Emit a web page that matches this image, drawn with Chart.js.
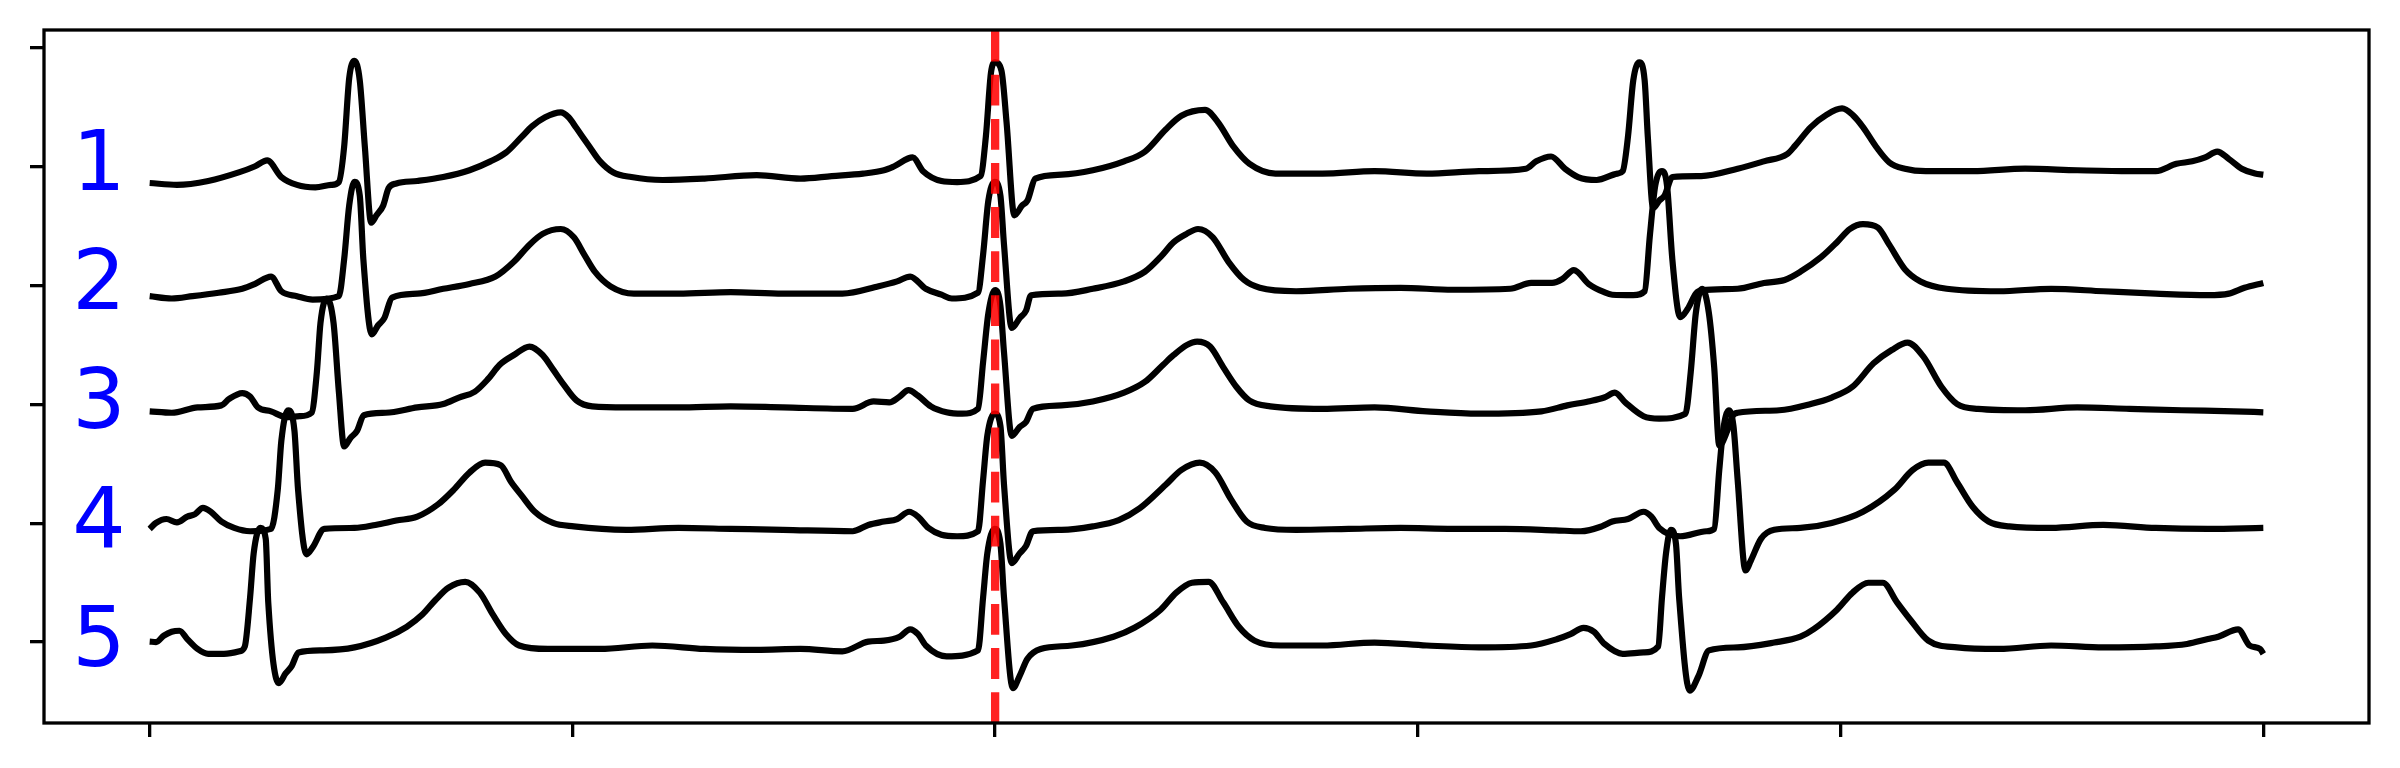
<!DOCTYPE html>
<html>
<head>
<meta charset="utf-8">
<script src="https://cdn.jsdelivr.net/npm/chart.js@4.4.1/dist/chart.umd.min.js"></script>
<style>
  body { margin: 0; background: #fff; }
  canvas { display: block; }
</style>
</head>
<body>
<canvas id="myChart" width="2400" height="768"></canvas>
<script>
// axis ticks (no labels shown)
var xTicks = [0, 200, 400, 600, 800, 1000];
var yTicks = [0, 1, 2, 3, 4, 5];

// trace names and vertical offsets
var traceLabels = ['1', '2', '3', '4', '5'];
var offsets = [4, 3, 2, 1, 0];

// red marker position
var markerX = 400;

// ECG traces, [sample, amplitude]
var lead1 = [[0,-0.138],[12.9,-0.154],[27.7,-0.121],[42.5,-0.047],[49.9,0.003],[55.6,0.052],[62.3,-0.088],[69.7,-0.154],[78.4,-0.175],[85.8,-0.154],[89.5,-0.130],
  [92,0.167],[94.4,0.744],[96.9,0.889],[99.4,0.724],[101.8,0.167],[104.8,-0.472],[107.3,-0.410],[110.5,-0.327],[113,-0.183],[116.7,-0.142],[126.6,-0.121],
  [138.9,-0.088],[151.3,-0.031],[161.2,0.044],[168.6,0.118],[176,0.250],[181,0.340],[187.1,0.415],[194.5,0.456],[198.2,0.415],[201.9,0.324],[208.1,0.167],
  [213.1,0.044],[219.2,-0.047],[227.9,-0.088],[242.7,-0.113],[262.5,-0.101],[287.2,-0.072],[307.9,-0.101],[322.7,-0.080],[337.5,-0.059],[347.4,-0.031],
  [352.3,0.003],[361,0.077],[365.9,-0.039],[374.6,-0.121],[382,-0.130],[393.1,-0.080],[395.6,0.250],[398,0.786],[400,0.876],[403,0.806],[405.4,0.373],
  [409.1,-0.410],[412.8,-0.327],[415.3,-0.286],[419,-0.101],[431.4,-0.068],[446.2,-0.031],[461,0.044],[470.9,0.126],[480.7,0.312],[488.1,0.427],[499.3,0.477],
  [505.4,0.373],[512.8,0.167],[520.3,0.023],[532.6,-0.059],[554.8,-0.059],[579.5,-0.039],[604.2,-0.059],[628.9,-0.039],[651.1,-0.018],[656,0.044],[663,0.085],
  [669.6,-0.018],[675.8,-0.088],[684.6,-0.113],[694.4,-0.059],[696.9,-0.039],[699.4,0.250],[701.9,0.724],[704.8,0.876],[707.3,0.724],[708.8,0.250],
  [711.3,-0.348],[714.2,-0.286],[716.7,-0.245],[720.4,-0.088],[734,-0.080],[751.3,-0.018],[763.7,0.044],[774.8,0.106],[778.5,0.176],[785.9,0.332],
  [793.3,0.435],[800.7,0.489],[805.7,0.435],[810.6,0.332],[816.8,0.167],[823,0.036],[830.4,-0.018],[840.3,-0.039],[862.5,-0.039],[887.3,-0.018],
  [912,-0.031],[936.7,-0.039],[949.1,-0.039],[958.9,0.023],[966.4,0.044],[972.5,0.077],[978.2,0.126],[983.7,0.064],[989.8,-0.018],[996.1,-0.059],[1000,-0.068]];

var lead2 = [[0,-0.090],[10.4,-0.110],[20.3,-0.090],[32.6,-0.061],[43.8,-0.028],[49.9,0.013],[57.4,0.075],[62.3,-0.049],[69.7,-0.090],[77.1,-0.119],[89.5,-0.090],
  [92,0.219],[94.4,0.673],[96.9,0.871],[99.4,0.755],[101.1,0.219],[105.1,-0.411],[108,-0.337],[111,-0.275],[114.7,-0.102],[126.6,-0.069],[138.9,-0.028],
  [151.3,0.013],[163.6,0.075],[172.3,0.199],[179.7,0.343],[185.9,0.434],[194.5,0.475],[200.7,0.405],[205.6,0.260],[210.6,0.116],[218,-0.007],[229.1,-0.069],
  [250.2,-0.069],[274.9,-0.057],[299.6,-0.069],[327.7,-0.069],[344.9,-0.007],[353.6,0.034],[359.8,0.075],[367.2,-0.028],[374.6,-0.078],[379.5,-0.110],
  [391.9,-0.061],[394.3,0.260],[396.8,0.714],[399.8,0.871],[402.5,0.755],[404.2,0.343],[407.9,-0.358],[411.6,-0.275],[414.6,-0.213],[417,-0.082],
  [431.4,-0.069],[446.2,-0.028],[461,0.034],[470.9,0.116],[478.3,0.240],[484.5,0.364],[490.6,0.434],[496,0.475],[503,0.405],[510.4,0.199],[517.8,0.046],
  [525.2,-0.020],[542.4,-0.049],[567.2,-0.028],[591.8,-0.020],[616.5,-0.036],[643.7,-0.028],[653.6,0.021],[663.5,0.021],[668.4,0.054],[673.8,0.129],
  [680.8,0.013],[688.2,-0.057],[692,-0.078],[701.9,-0.082],[707.3,-0.049],[709.8,0.425],[712.3,0.838],[715.5,0.961],[717.9,0.838],[720.4,0.219],
  [724.1,-0.267],[727.8,-0.193],[731.5,-0.069],[734.5,-0.040],[751.3,-0.028],[763.7,0.021],[773.5,0.046],[781,0.116],[790.9,0.240],[798.3,0.364],
  [804.4,0.475],[810.6,0.516],[817.6,0.487],[823,0.343],[830.4,0.137],[837.8,0.034],[850.2,-0.028],[874.9,-0.049],[899.6,-0.028],[924.3,-0.049],
  [949.1,-0.069],[973.8,-0.082],[983.7,-0.069],[991.1,-0.020],[1000,0.021]];

var lead3 = [[0,-0.059],[10.4,-0.071],[22.7,-0.026],[33.9,-0.009],[37.6,0.045],[43.8,0.094],[47.5,0.065],[51.2,-0.026],[57.4,-0.059],[64.8,-0.108],[71,-0.100],
  [76.6,-0.071],[79.1,0.271],[80.8,0.683],[83.8,0.890],[87,0.683],[89.5,0.106],[92,-0.355],[94.9,-0.285],[98.1,-0.223],[101.3,-0.092],[111.7,-0.071],
  [126.6,-0.026],[138.9,0.003],[146.3,0.057],[153.8,0.106],[159.9,0.209],[165.6,0.333],[172.3,0.415],[179.7,0.486],[185.9,0.415],[190.9,0.292],
  [195.8,0.168],[202,0.032],[209.4,-0.017],[225.5,-0.026],[250.2,-0.026],[274.9,-0.017],[299.6,-0.026],[332.6,-0.038],[342.5,0.024],[349.9,0.016],
  [354.8,0.065],[359,0.119],[363.5,0.073],[369.6,-0.017],[377,-0.067],[384.4,-0.079],[391.9,-0.038],[394.3,0.354],[396.8,0.766],[400,0.960],[402.5,0.828],
  [404.2,0.436],[407.9,-0.265],[411.6,-0.190],[414.6,-0.149],[417.8,-0.038],[431.4,-0.009],[446.2,0.024],[461,0.098],[470.9,0.189],[479.5,0.333],
  [484.5,0.415],[490.6,0.498],[495.6,0.527],[501.7,0.486],[507.9,0.313],[514.1,0.148],[520.3,0.032],[530.2,-0.017],[554.8,-0.038],[579.5,-0.026],
  [604.2,-0.059],[628.9,-0.079],[658.5,-0.059],[670.7,-0.009],[680.6,0.024],[688.2,0.057],[693.2,0.098],[698.1,0.016],[706.8,-0.100],[714.2,-0.120],
  [726.6,-0.079],[729.1,0.271],[731.5,0.766],[734.5,0.972],[737.7,0.766],[740.2,0.312],[742.6,-0.347],[746.4,-0.223],[748.8,-0.100],[751.3,-0.071],
  [771,-0.050],[785.9,0.003],[795.8,0.057],[805.7,0.148],[815.6,0.345],[824.2,0.457],[831.7,0.519],[839.1,0.403],[847.7,0.148],[855.1,0.003],
  [865,-0.038],[887.3,-0.050],[912,-0.026],[936.7,-0.038],[961.4,-0.050],[986.1,-0.059],[1000,-0.067]];

var lead4 = [[0,-0.048],[3,0.002],[7.9,0.035],[12.9,0.006],[17.8,0.055],[21.5,0.076],[25.2,0.129],[28.9,0.096],[33.9,0.014],[40,-0.040],[47.5,-0.068],
  [57.4,-0.048],[60.6,0.282],[62.3,0.694],[65.5,0.950],[68.5,0.777],[70.2,0.282],[74.2,-0.262],[77.1,-0.204],[82.6,-0.048],[96.9,-0.040],[106.8,-0.015],
  [116.7,0.022],[126.6,0.055],[136.4,0.158],[143.9,0.282],[151.3,0.426],[158.7,0.509],[166.1,0.488],[171.1,0.344],[176,0.232],[182.2,0.096],[190.8,0.002],
  [200.7,-0.027],[225.5,-0.056],[250.2,-0.040],[274.9,-0.048],[299.6,-0.056],[332.6,-0.068],[340,-0.015],[347.4,0.014],[353.6,0.035],[359.3,0.096],
  [363.5,0.055],[368.4,-0.040],[374.6,-0.097],[382,-0.110],[391.9,-0.068],[394.3,0.364],[396.3,0.735],[399.8,0.921],[402.5,0.818],[404.2,0.323],
  [407.9,-0.336],[411.6,-0.254],[414.6,-0.192],[417.8,-0.068],[431.4,-0.056],[446.2,-0.027],[458.5,0.026],[468.4,0.125],[480.7,0.323],[488.1,0.447],
  [496.8,0.509],[504.2,0.426],[511.6,0.200],[519,0.014],[527.7,-0.040],[542.4,-0.056],[567.2,-0.048],[591.8,-0.040],[616.5,-0.048],[641.2,-0.048],
  [665,-0.060],[677.1,-0.068],[687,-0.027],[692,0.014],[699.4,0.035],[706.8,0.096],[710.5,0.055],[714.2,-0.040],[724.1,-0.110],[736.5,-0.068],
  [740.2,-0.048],[742.6,0.447],[744.4,0.777],[747.1,0.950],[749.3,0.818],[751.3,0.364],[755,-0.398],[757.5,-0.316],[762.4,-0.130],[768.6,-0.056],
  [781,-0.040],[795.8,0.002],[810.6,0.096],[825.5,0.282],[834.1,0.447],[841.5,0.509],[848.9,0.509],[855.1,0.344],[862.5,0.138],[870,0.014],
  [879.8,-0.027],[899.6,-0.040],[924.3,-0.015],[949.1,-0.040],[973.8,-0.048],[1000,-0.040]];

var lead5 = [[0,0.004],[3,0.0],[6.7,0.054],[10.4,0.087],[14.1,0.095],[17.8,0.025],[22.7,-0.058],[27.7,-0.099],[35.1,-0.099],[42.5,-0.078],[45,-0.037],
  [47.5,0.375],[49.2,0.746],[52.4,0.960],[54.9,0.870],[56.1,0.334],[61.1,-0.346],[64.3,-0.264],[67.2,-0.202],[70.4,-0.087],[82.1,-0.070],[96.9,-0.045],
  [111.7,0.037],[121.6,0.128],[129,0.231],[135.2,0.354],[141.4,0.458],[149.3,0.507],[156.2,0.416],[162.4,0.231],[168.6,0.066],[174.8,-0.029],
  [188.4,-0.058],[213.1,-0.058],[237.8,-0.029],[262.5,-0.058],[287.2,-0.066],[307.9,-0.058],[327.7,-0.078],[340,0.004],[347.4,0.012],[354.8,0.045],
  [359.8,0.107],[363.5,0.066],[367.2,-0.029],[377,-0.120],[391.9,-0.070],[394.3,0.375],[396.3,0.746],[399.8,0.952],[402.5,0.829],[404.2,0.375],
  [408.4,-0.387],[411.6,-0.284],[415.3,-0.140],[421.5,-0.058],[436.3,-0.029],[456,0.045],[465.9,0.120],[478.3,0.272],[485.7,0.416],[493.1,0.499],
  [501,0.507],[507.9,0.334],[515.3,0.128],[522.7,0.012],[535.1,-0.029],[554.8,-0.029],[579.5,-0.004],[604.2,-0.029],[628.9,-0.045],[653.6,-0.029],
  [666,0.025],[672.2,0.066],[678.4,0.120],[683.3,0.087],[688.3,-0.016],[696.9,-0.099],[706.8,-0.087],[713.7,-0.037],[715.5,0.375],[717.4,0.746],
  [719.7,0.944],[722.1,0.829],[723.6,0.375],[728.6,-0.408],[732.8,-0.284],[737.7,-0.070],[751.3,-0.045],[768.6,-0.004],[781,0.045],[787.2,0.107],
  [798.3,0.272],[805.7,0.416],[813.1,0.499],[820,0.499],[826.7,0.334],[832.9,0.190],[841.5,0.012],[855.1,-0.045],[874.9,-0.058],[899.6,-0.029],
  [924.3,-0.045],[949.1,-0.037],[963.9,-0.016],[973.8,0.025],[978.7,0.045],[988.1,0.107],[993.5,-0.029],[998.5,-0.058],[1000,-0.099]];

var traces = [lead1, lead2, lead3, lead4, lead5];

// axis limits
var xMin = -50, xMax = 1050;
var yMin = -0.681, yMax = 5.149;

// red dashed marker first so it is drawn on top
var datasets = [{
    data: [{ x: markerX, y: yMin }, { x: markerX, y: yMax }],
    borderColor: 'rgba(255, 0, 0, 0.87)',
    borderWidth: 8.3,
    borderDash: [30.8, 13.3],
    pointRadius: 0
}];

traces.forEach(function (tr, i) {
    datasets.push({
        data: tr.map(function (p) { return { x: p[0], y: p[1] + offsets[i] }; }),
        borderColor: '#000',
        borderWidth: 6.2,
        borderJoinStyle: 'round',
        cubicInterpolationMode: 'monotone',
        pointRadius: 0
    });
});

// frame + blue trace numbers
var extras = {
    id: 'extras',
    afterDraw: function (chart) {
        var ctx = chart.ctx, a = chart.chartArea;
        var xs = chart.scales.x, ys = chart.scales.y;
        ctx.save();
        ctx.lineWidth = 3.3;
        ctx.strokeStyle = '#000';
        ctx.strokeRect(a.left, a.top, a.right - a.left, a.bottom - a.top);

        ctx.fillStyle = '#0000ff';
        ctx.font = '84px "DejaVu Sans"';
        ctx.textAlign = 'center';
        ctx.textBaseline = 'alphabetic';
        traceLabels.forEach(function (t, i) {
            ctx.fillText(t, xs.getPixelForValue(-24), ys.getPixelForValue(offsets[i] - 0.2));
        });
        ctx.restore();
    }
};

var tickGrid = {
    drawOnChartArea: false,
    drawTicks: true,
    tickLength: 14,
    color: '#000',
    tickColor: '#000',
    tickWidth: 3.3,
    lineWidth: 3.3
};

var ctx = document.getElementById('myChart').getContext('2d');
var myChart = new Chart(ctx, {
    type: 'line',
    data: { datasets: datasets },
    options: {
        responsive: false,
        animation: false,
        devicePixelRatio: 1,
        layout: { padding: { left: 0, top: 30, right: 31, bottom: 0 } },
        plugins: { legend: { display: false }, tooltip: { enabled: false } },
        scales: {
            x: {
                type: 'linear',
                min: xMin,
                max: xMax,
                grid: tickGrid,
                border: { display: false },
                ticks: { display: false },
                afterBuildTicks: function (s) { s.ticks = xTicks.map(function (v) { return { value: v }; }); },
                afterFit: function (s) { s.height = 45; }
            },
            y: {
                type: 'linear',
                min: yMin,
                max: yMax,
                grid: tickGrid,
                border: { display: false },
                ticks: { display: false },
                afterBuildTicks: function (s) { s.ticks = yTicks.map(function (v) { return { value: v }; }); },
                afterFit: function (s) { s.width = 44; }
            }
        }
    },
    plugins: [extras]
});
</script>
</body>
</html>
